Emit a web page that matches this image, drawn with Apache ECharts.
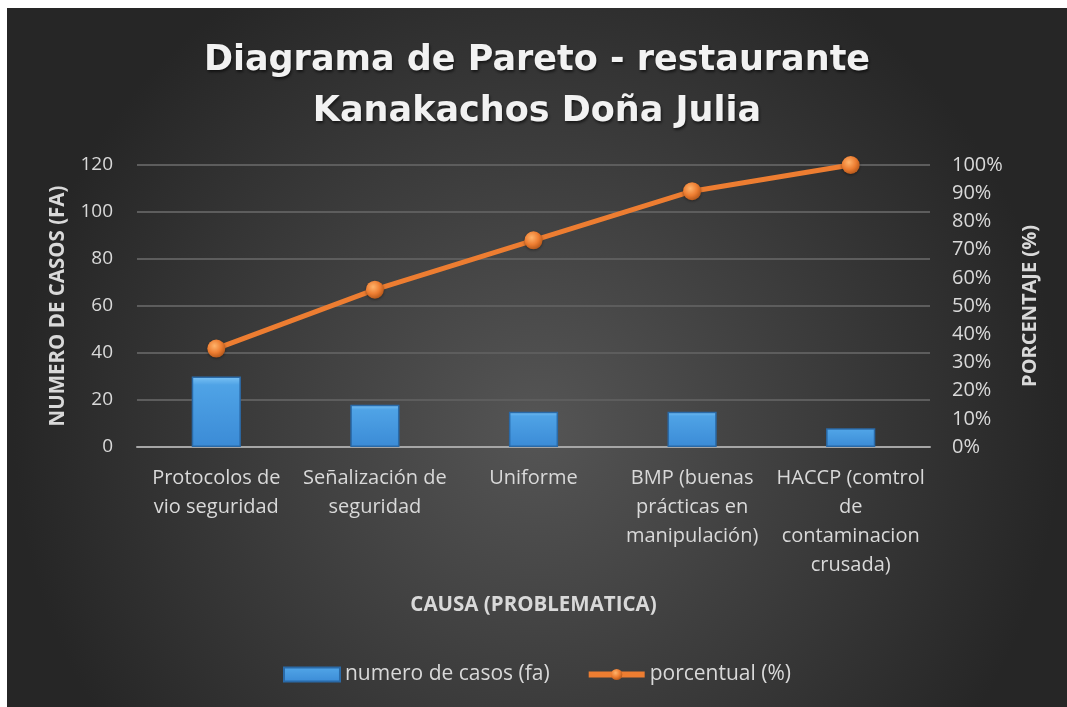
<!DOCTYPE html>
<html>
<head>
<meta charset="utf-8">
<script src="https://cdn.jsdelivr.net/npm/echarts@6/dist/echarts.min.js"></script>
<style>
  html, body { margin: 0; padding: 0; background: #ffffff; }
  #box { position: absolute; left: 7px; top: 8px; width: 1060px; height: 699px; }
</style>
</head>
<body>
<div id="box"></div>
<script>
// datos del gráfico
var causas = ['Protocolos de\nvio seguridad', 'Señalización de\nseguridad', 'Uniforme',
    'BMP (buenas\nprácticas en\nmanipulación)', 'HACCP (comtrol\nde\ncontaminacion\ncrusada)'];
var casos = [30, 18, 15, 15, 8];
var porcentual = [34.9, 55.8, 73.3, 90.7, 100];
var ticksCasos = [0, 20, 40, 60, 80, 100, 120];
var ticksPct = [0, 10, 20, 30, 40, 50, 60, 70, 80, 90, 100];

var fuente = '"Open Sans", "Noto Sans", sans-serif';
var textoGris = '#d9d9d9';

var naranja = {
    type: 'radial', x: 0.4, y: 0.35, r: 0.65,
    colorStops: [
        { offset: 0, color: '#ffb36b' },
        { offset: 0.6, color: '#ed7d31' },
        { offset: 1, color: '#b85a1c' }
    ]
};

var myChart = echarts.init(document.getElementById('box'));
var option = {
    backgroundColor: {
        type: 'radial', x: 0.5, y: 0.6, r: 0.75,
        colorStops: [
            { offset: 0, color: '#555555' },
            { offset: 1, color: '#262626' }
        ]
    },
    title: {
        text: 'Diagrama de Pareto - restaurante\nKanakachos Doña Julia',
        left: 'center',
        top: 22,
        textStyle: {
            color: '#f2f2f2',
            fontFamily: '"DejaVu Sans", sans-serif',
            fontSize: 35,
            fontWeight: 'bold',
            lineHeight: 51,
            textShadowColor: 'rgba(0,0,0,0.6)',
            textShadowBlur: 3,
            textShadowOffsetX: 1,
            textShadowOffsetY: 2
        }
    },
    grid: {
        left: 130,
        right: 137,
        top: 157,
        bottom: 260
    },
    legend: {
        bottom: 17,
        left: 'center',
        itemGap: 36,
        itemWidth: 56,
        itemHeight: 14,
        textStyle: { color: textoGris, fontFamily: fuente, fontSize: 21 },
        data: [
            { name: 'numero de casos (fa)', icon: 'rect' },
            { name: 'porcentual (%)', lineStyle: { width: 6, color: '#ed7d31' } }
        ]
    },
    xAxis: {
        type: 'category',
        data: causas,
        name: 'CAUSA (PROBLEMATICA)',
        nameLocation: 'middle',
        nameGap: 148,
        nameTextStyle: { color: textoGris, fontFamily: fuente, fontSize: 20.5, fontWeight: 'bold' },
        axisLine: { lineStyle: { color: '#a6a6a6', width: 2 } },
        axisTick: { show: false },
        axisLabel: {
            color: textoGris, fontFamily: fuente, fontSize: 20, lineHeight: 29,
            interval: 0, margin: 17
        }
    },
    yAxis: [{
        type: 'value',
        min: ticksCasos[0],
        max: ticksCasos[ticksCasos.length - 1],
        interval: 20,
        name: 'NUMERO DE CASOS (FA)',
        nameLocation: 'middle',
        nameGap: 68,
        nameRotate: 90,
        nameTextStyle: { color: textoGris, fontFamily: fuente, fontSize: 20.5, fontWeight: 'bold' },
        axisLine: { show: false },
        axisTick: { show: false },
        axisLabel: { color: textoGris, fontFamily: fuente, fontSize: 19, margin: 24 },
        splitLine: { lineStyle: { color: '#5d5d5d', width: 2 } }
    }, {
        type: 'value',
        min: ticksPct[0],
        max: ticksPct[ticksPct.length - 1],
        interval: 10,
        name: 'PORCENTAJE (%)',
        nameLocation: 'middle',
        nameGap: 90,
        nameRotate: 90,
        nameTextStyle: { color: textoGris, fontFamily: fuente, fontSize: 20, fontWeight: 'bold' },
        axisLine: { show: false },
        axisTick: { show: false },
        splitLine: { show: false },
        axisLabel: { color: textoGris, fontFamily: fuente, fontSize: 20, margin: 22, formatter: '{value}%' }
    }],
    series: [{
        name: 'numero de casos (fa)',
        type: 'bar',
        data: casos,
        barWidth: '31%',
        itemStyle: {
            color: {
                type: 'linear', x: 0, y: 0, x2: 0, y2: 1,
                colorStops: [
                    { offset: 0, color: '#7cc3f5' },
                    { offset: 0.12, color: '#4fa3e6' },
                    { offset: 1, color: '#3b8bd6' }
                ]
            },
            borderColor: '#2a6aa8',
            borderWidth: 1.5
        }
    }, {
        name: 'porcentual (%)',
        type: 'line',
        yAxisIndex: 1,
        data: porcentual,
        symbol: 'circle',
        symbolSize: 18,
        lineStyle: { color: '#ed7d31', width: 5 },
        itemStyle: {
            color: naranja,
            shadowColor: 'rgba(0,0,0,0.4)',
            shadowBlur: 3,
            shadowOffsetY: 1
        }
    }]
};

myChart.setOption(option);
</script>
</body>
</html>
